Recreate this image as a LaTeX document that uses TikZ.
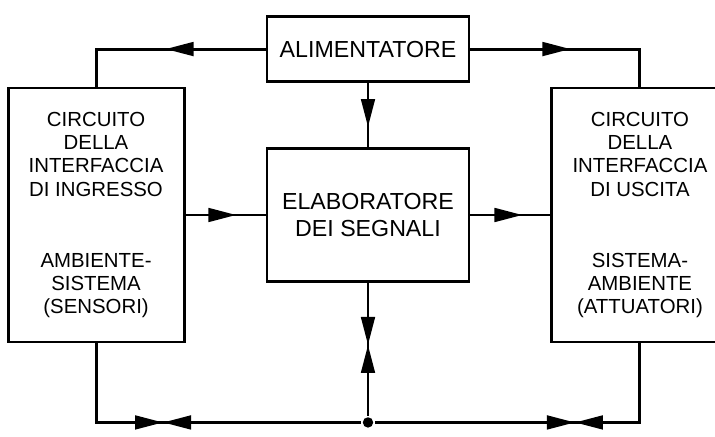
\documentclass[tikz,border=0pt]{standalone}
\usepackage{fontspec}
\setmainfont{Liberation Sans}
\usepackage{tikz}
\usetikzlibrary{positioning, arrows.meta, decorations.markings}

\tikzset{
  >={Triangle[length=0.7cm, width=0.34cm]},
  wirearrow/.style={postaction={decorate},
    decoration={markings, mark=at position #1 with {\arrow{>}}}},
  wirebowtie/.style={postaction={decorate},
    decoration={markings, mark=at position #1 with {\arrow{>}\arrowreversed{>}}}}
}

\begin{document}
\begin{tikzpicture}[node distance=2cm, line width=2.1pt]

  \tikzstyle{sidebox} = [
    draw, minimum width=4.4cm, minimum height=6.35cm,
    align=center, inner sep=0pt,
    font=\fontsize{14.5}{16.5}\selectfont
  ]
  \tikzstyle{midbox} = [
    draw, minimum width=5.05cm, minimum height=3.325cm,
    align=center, font=\fontsize{16.5}{19}\selectfont
  ]
  \tikzstyle{topbox} = [
    draw, minimum width=5.05cm, minimum height=1.625cm,
    font=\fontsize{16.5}{19}\selectfont
  ]
  \tikzstyle{dot} = [circle, fill, inner sep=0pt, minimum size=0.26cm]

  \clip (-9.2,5.375) rectangle (8.675,-5.55);

  \node[midbox] (elab) at (0,0) {ELABORATORE\\DEI SEGNALI};

  \node[topbox, above=1.6cm of elab] (alim) {ALIMENTATORE};

  \node[sidebox, left=of elab] (ingresso)
    {CIRCUITO\\DELLA\\INTERFACCIA\\DI INGRESSO\\[34pt]
     AMBIENTE-\\SISTEMA\\(SENSORI)};

  \node[sidebox, right=of elab] (uscita)
    {CIRCUITO\\DELLA\\INTERFACCIA\\DI USCITA\\[34pt]
     SISTEMA-\\AMBIENTE\\(ATTUATORI)};

  \node[dot, below=3.32cm of elab] (junction) {};

  \draw[wirearrow=2.5cm] (alim.west) -| (ingresso.north);
  \draw[wirearrow=2.5cm] (alim.east) -| (uscita.north);
  \draw[wirearrow=1.1cm] (alim.south) -- (elab.north);
  \draw[wirearrow=1.27cm] (ingresso.east) -- (elab.west);
  \draw[wirearrow=1.3cm] (elab.east) -- (uscita.west);
  \draw[wirebowtie=1.55cm] (elab.south) -- (junction);
  \draw[wirebowtie=3.65cm] (ingresso.south) |- (junction);
  \draw[wirebowtie=3.6cm] (uscita.south) |- (junction);

\end{tikzpicture}
\end{document}
